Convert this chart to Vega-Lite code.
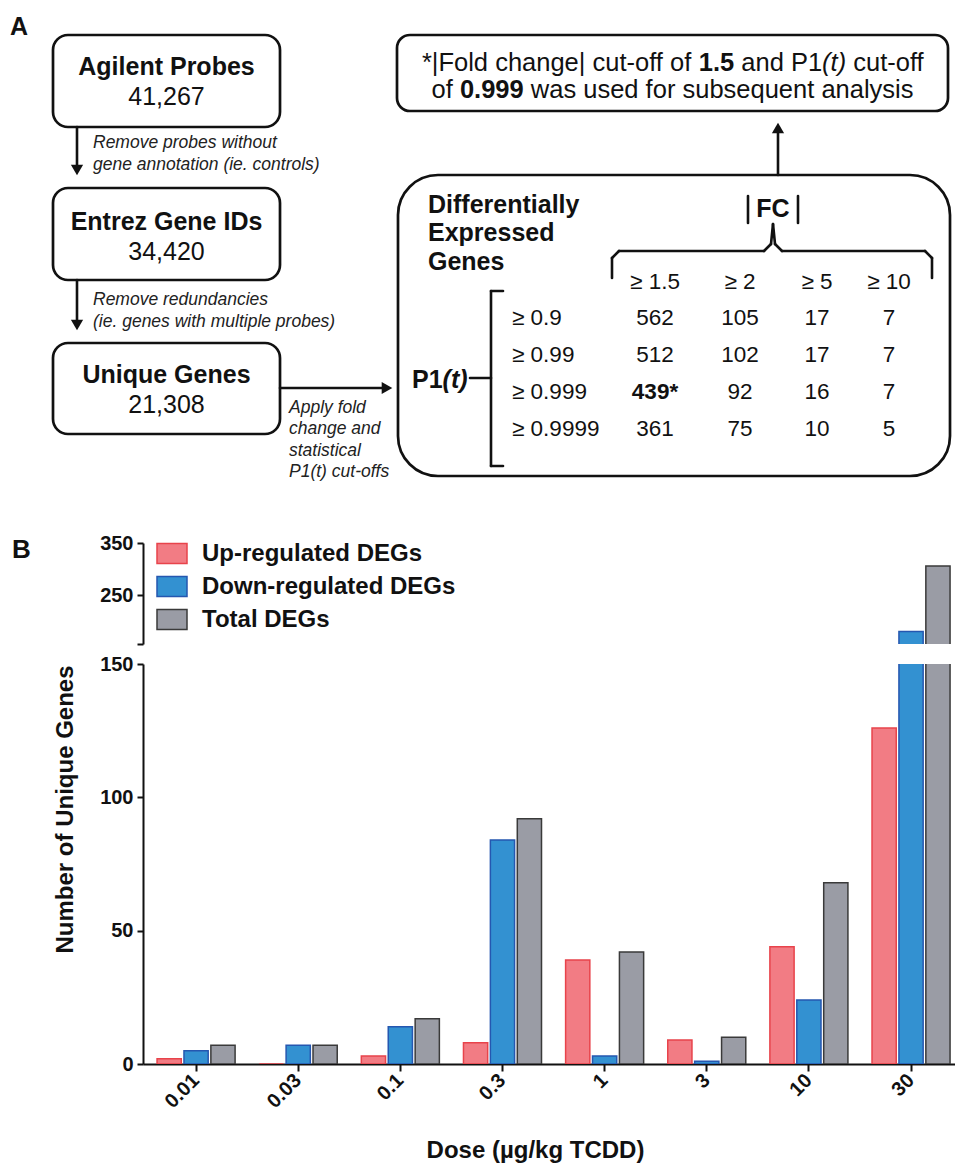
{
  "$schema": "https://vega.github.io/schema/vega-lite/v6.json",
  "padding": {"left": 10, "top": 0, "right": 0, "bottom": 0},
  "spacing": 9,
  "background": "white",
  "config": {
    "font": "Liberation Sans",
    "view": {"stroke": null},
    "axis": {"labelFont": "Liberation Sans", "titleFont": "Liberation Sans", "domainColor": "#111", "tickColor": "#111", "labelColor": "#111", "titleColor": "#111", "domainWidth": 2, "tickWidth": 2, "grid": false},
    "text": {"font": "Liberation Sans", "color": "#111"}
  },
  "resolve": {"scale": {"x": "independent", "y": "independent", "fill": "independent", "stroke": "independent", "xOffset": "independent", "shape": "independent"}},
  "datasets": {
    "smallBoxes": [{"x": 53, "x2": 280, "y": 35, "y2": 127}, {"x": 53, "x2": 280, "y": 188, "y2": 280}, {"x": 53, "x2": 280, "y": 343, "y2": 434}],
    "topBox": [{"x": 397, "x2": 948, "y": 35, "y2": 111}],
    "bigBox": [{"x": 398, "x2": 950, "y": 175, "y2": 476}],
    "segments": [
      {"x": 77, "y": 127, "x2": 77, "y2": 169},
      {"x": 77, "y": 280, "x2": 77, "y2": 324},
      {"x": 280, "y": 388, "x2": 386, "y2": 388},
      {"x": 778, "y": 175, "x2": 778, "y2": 129},
      {"x": 503, "y": 291, "x2": 491, "y2": 291},
      {"x": 491, "y": 291, "x2": 491, "y2": 466},
      {"x": 491, "y": 466, "x2": 503, "y2": 466},
      {"x": 470, "y": 378, "x2": 491, "y2": 378},
      {"x": 612, "y": 278, "x2": 612, "y2": 258},
      {"x": 612, "y": 258, "x2": 619, "y2": 251},
      {"x": 619, "y": 251, "x2": 764, "y2": 251},
      {"x": 764, "y": 251, "x2": 771, "y2": 244},
      {"x": 771, "y": 244, "x2": 773, "y2": 224},
      {"x": 773, "y": 224, "x2": 775, "y2": 244},
      {"x": 775, "y": 244, "x2": 782, "y2": 251},
      {"x": 782, "y": 251, "x2": 925, "y2": 251},
      {"x": 925, "y": 251, "x2": 932, "y2": 258},
      {"x": 932, "y": 258, "x2": 932, "y2": 278},
      {"x": 748, "y": 196, "x2": 748, "y2": 223},
      {"x": 798, "y": 196, "x2": 798, "y2": 223}
    ],
    "arrowHeads": [{"x": 77, "y": 170, "dir": "down"}, {"x": 77, "y": 325, "dir": "down"}, {"x": 387, "y": 388, "dir": "right"}, {"x": 778, "y": 128, "dir": "up"}],
    "headsLeft": [{"x": 10, "y": 27, "text": "A"}, {"x": 428, "y": 205, "text": "Differentially"}, {"x": 428, "y": 233, "text": "Expressed"}, {"x": 428, "y": 262, "text": "Genes"}, {"x": 412, "y": 380, "text": "P1"}],
    "headsCenter": [{"x": 166.5, "y": 67, "text": "Agilent Probes"}, {"x": 166.5, "y": 222, "text": "Entrez Gene IDs"}, {"x": 166.5, "y": 375, "text": "Unique Genes"}, {"x": 773, "y": 209, "text": "FC"}],
    "numsCenter": [{"x": 166.5, "y": 97, "text": "41,267"}, {"x": 166.5, "y": 252, "text": "34,420"}, {"x": 166.5, "y": 405, "text": "21,308"}],
    "boldItalic": [{"x": 442.6, "y": 380, "text": "(t)"}],
    "topRegular": [{"x": 421.9, "y": 63, "text": "*|Fold change| cut-off of"}, {"x": 741.3, "y": 63, "text": "and P1"}, {"x": 853.3, "y": 63, "text": "cut-off"}, {"x": 431.5, "y": 90, "text": "of"}, {"x": 530.8, "y": 90, "text": "was used for subsequent analysis"}],
    "topBold": [{"x": 698.8, "y": 63, "text": "1.5"}, {"x": 459.9, "y": 90, "text": "0.999"}],
    "topItalic": [{"x": 822.1, "y": 63, "text": "(t)"}],
    "notes": [{"x": 93, "y": 143, "text": "Remove probes without"}, {"x": 93, "y": 165, "text": "gene annotation (ie. controls)"}, {"x": 93, "y": 300, "text": "Remove redundancies"}, {"x": 93, "y": 322, "text": "(ie. genes with multiple probes)"}, {"x": 289, "y": 408, "text": "Apply fold"}, {"x": 289, "y": 429, "text": "change and"}, {"x": 289, "y": 451, "text": "statistical"}, {"x": 289, "y": 472, "text": "P1(t) cut-offs"}],
    "tableCenter": [
      {"x": 655, "y": 282, "text": "≥ 1.5"}, {"x": 740, "y": 282, "text": "≥ 2"}, {"x": 817, "y": 282, "text": "≥ 5"}, {"x": 889, "y": 282, "text": "≥ 10"},
      {"x": 655, "y": 318, "text": "562"}, {"x": 740, "y": 318, "text": "105"}, {"x": 817, "y": 318, "text": "17"}, {"x": 889, "y": 318, "text": "7"},
      {"x": 655, "y": 355, "text": "512"}, {"x": 740, "y": 355, "text": "102"}, {"x": 817, "y": 355, "text": "17"}, {"x": 889, "y": 355, "text": "7"},
      {"x": 740, "y": 392, "text": "92"}, {"x": 817, "y": 392, "text": "16"}, {"x": 889, "y": 392, "text": "7"},
      {"x": 655, "y": 429, "text": "361"}, {"x": 740, "y": 429, "text": "75"}, {"x": 817, "y": 429, "text": "10"}, {"x": 889, "y": 429, "text": "5"}
    ],
    "tableBold": [{"x": 655, "y": 392, "text": "439*"}],
    "rowLabels": [{"x": 512, "y": 318, "text": "≥ 0.9"}, {"x": 512, "y": 355, "text": "≥ 0.99"}, {"x": 512, "y": 392, "text": "≥ 0.999"}, {"x": 512, "y": 429, "text": "≥ 0.9999"}],
    "bars": [
      {"dose": "0.01", "series": "Up-regulated DEGs", "value": 2},
      {"dose": "0.01", "series": "Down-regulated DEGs", "value": 5},
      {"dose": "0.01", "series": "Total DEGs", "value": 7},
      {"dose": "0.03", "series": "Up-regulated DEGs", "value": 0},
      {"dose": "0.03", "series": "Down-regulated DEGs", "value": 7},
      {"dose": "0.03", "series": "Total DEGs", "value": 7},
      {"dose": "0.1", "series": "Up-regulated DEGs", "value": 3},
      {"dose": "0.1", "series": "Down-regulated DEGs", "value": 14},
      {"dose": "0.1", "series": "Total DEGs", "value": 17},
      {"dose": "0.3", "series": "Up-regulated DEGs", "value": 8},
      {"dose": "0.3", "series": "Down-regulated DEGs", "value": 84},
      {"dose": "0.3", "series": "Total DEGs", "value": 92},
      {"dose": "1", "series": "Up-regulated DEGs", "value": 39},
      {"dose": "1", "series": "Down-regulated DEGs", "value": 3},
      {"dose": "1", "series": "Total DEGs", "value": 42},
      {"dose": "3", "series": "Up-regulated DEGs", "value": 9},
      {"dose": "3", "series": "Down-regulated DEGs", "value": 1},
      {"dose": "3", "series": "Total DEGs", "value": 10},
      {"dose": "10", "series": "Up-regulated DEGs", "value": 44},
      {"dose": "10", "series": "Down-regulated DEGs", "value": 24},
      {"dose": "10", "series": "Total DEGs", "value": 68},
      {"dose": "30", "series": "Up-regulated DEGs", "value": 126},
      {"dose": "30", "series": "Down-regulated DEGs", "value": 180},
      {"dose": "30", "series": "Total DEGs", "value": 306}
    ]
  },
  "vconcat": [
    {
      "width": 812,
      "height": 524,
      "encoding": {
        "x": {"field": "x", "type": "quantitative", "scale": {"domain": [143, 955], "nice": false, "zero": false}, "axis": null},
        "y": {"field": "y", "type": "quantitative", "scale": {"domain": [0, 524], "nice": false, "zero": false, "reverse": true}, "axis": null}
      },
      "layer": [
        {"data": {"name": "smallBoxes"}, "mark": {"type": "rect", "fill": "white", "stroke": "#111", "strokeWidth": 2.7, "cornerRadius": 15}, "encoding": {"x2": {"field": "x2"}, "y2": {"field": "y2"}}},
        {"data": {"name": "topBox"}, "mark": {"type": "rect", "fill": "white", "stroke": "#111", "strokeWidth": 2.7, "cornerRadius": 13}, "encoding": {"x2": {"field": "x2"}, "y2": {"field": "y2"}}},
        {"data": {"name": "bigBox"}, "mark": {"type": "rect", "fill": "white", "stroke": "#111", "strokeWidth": 2.7, "cornerRadius": 40}, "encoding": {"x2": {"field": "x2"}, "y2": {"field": "y2"}}},
        {"data": {"name": "segments"}, "mark": {"type": "rule", "color": "#111", "strokeWidth": 2.6, "strokeCap": "round"}, "encoding": {"x2": {"field": "x2"}, "y2": {"field": "y2"}}},
        {"data": {"name": "arrowHeads"}, "mark": {"type": "point", "filled": true, "size": 150, "color": "#111", "opacity": 1, "strokeWidth": 0},
         "encoding": {"shape": {"field": "dir", "type": "nominal", "scale": {"domain": ["down", "right", "up"], "range": ["triangle-down", "triangle-right", "triangle-up"]}, "legend": null}}},
        {"data": {"name": "headsLeft"}, "mark": {"type": "text", "align": "left", "baseline": "middle", "fontSize": 25, "fontWeight": "bold"}, "encoding": {"text": {"field": "text"}}},
        {"data": {"name": "headsCenter"}, "mark": {"type": "text", "align": "center", "baseline": "middle", "fontSize": 25, "fontWeight": "bold"}, "encoding": {"text": {"field": "text"}}},
        {"data": {"name": "numsCenter"}, "mark": {"type": "text", "align": "center", "baseline": "middle", "fontSize": 25}, "encoding": {"text": {"field": "text"}}},
        {"data": {"name": "boldItalic"}, "mark": {"type": "text", "align": "left", "baseline": "middle", "fontSize": 25, "fontWeight": "bold", "fontStyle": "italic"}, "encoding": {"text": {"field": "text"}}},
        {"data": {"name": "topRegular"}, "mark": {"type": "text", "align": "left", "baseline": "middle", "fontSize": 25.5}, "encoding": {"text": {"field": "text"}}},
        {"data": {"name": "topBold"}, "mark": {"type": "text", "align": "left", "baseline": "middle", "fontSize": 25.5, "fontWeight": "bold"}, "encoding": {"text": {"field": "text"}}},
        {"data": {"name": "topItalic"}, "mark": {"type": "text", "align": "left", "baseline": "middle", "fontSize": 25.5, "fontStyle": "italic"}, "encoding": {"text": {"field": "text"}}},
        {"data": {"name": "notes"}, "mark": {"type": "text", "align": "left", "baseline": "middle", "fontSize": 17.5, "fontStyle": "italic", "color": "#222"}, "encoding": {"text": {"field": "text"}}},
        {"data": {"name": "tableCenter"}, "mark": {"type": "text", "align": "center", "baseline": "middle", "fontSize": 22.5}, "encoding": {"text": {"field": "text"}}},
        {"data": {"name": "tableBold"}, "mark": {"type": "text", "align": "center", "baseline": "middle", "fontSize": 22.5, "fontWeight": "bold"}, "encoding": {"text": {"field": "text"}}},
        {"data": {"name": "rowLabels"}, "mark": {"type": "text", "align": "left", "baseline": "middle", "fontSize": 22.5}, "encoding": {"text": {"field": "text"}}}
      ]
    },
    {
      "width": 812,
      "height": 101,
      "layer": [
        {
          "data": {"name": "bars"},
          "mark": {"type": "bar", "clip": true, "strokeWidth": 1.5},
          "encoding": {
            "x": {"field": "dose", "type": "nominal", "scale": {"domain": ["0.01", "0.03", "0.1", "0.3", "1", "3", "10", "30"], "paddingInner": 0.236, "paddingOuter": 0.093, "align": 0.74}, "axis": null},
            "xOffset": {"field": "series", "type": "nominal", "scale": {"domain": ["Up-regulated DEGs", "Down-regulated DEGs", "Total DEGs"], "paddingInner": 0.1}},
            "y": {"field": "value", "type": "quantitative", "scale": {"domain": [156, 350], "nice": false, "zero": false},
                  "axis": {"values": [156, 250, 350], "labelExpr": "datum.value == 156 ? '' : datum.label", "title": null, "labelFontSize": 20, "labelFontWeight": "bold", "tickSize": 6, "labelPadding": 4}},
            "fill": {"field": "series", "type": "nominal", "scale": {"domain": ["Up-regulated DEGs", "Down-regulated DEGs", "Total DEGs"], "range": ["#F27C84", "#3391D1", "#9A9CA5"]},
                     "legend": {"title": null, "orient": "none", "legendX": 17, "legendY": -1.5, "symbolType": "M-1.5,-1H1.5V1H-1.5Z", "symbolSize": 400, "symbolStrokeWidth": 1.5, "labelFontSize": 24, "labelFontWeight": "bold", "labelFont": "Liberation Sans", "labelColor": "#111", "labelLimit": 0, "rowPadding": 7, "labelOffset": 18, "padding": 0}},
            "stroke": {"field": "series", "type": "nominal", "scale": {"domain": ["Up-regulated DEGs", "Down-regulated DEGs", "Total DEGs"], "range": ["#E8434B", "#2557B0", "#3A3A3A"]},
                     "legend": {"title": null, "orient": "none", "legendX": 17, "legendY": -1.5, "symbolType": "M-1.5,-1H1.5V1H-1.5Z", "symbolSize": 400, "symbolStrokeWidth": 1.5, "labelFontSize": 24, "labelFontWeight": "bold", "labelFont": "Liberation Sans", "labelColor": "#111", "labelLimit": 0, "rowPadding": 7, "labelOffset": 18, "padding": 0}}
          }
        },
        {
          "data": {"values": [{"label": "B"}]},
          "mark": {"type": "text", "align": "left", "baseline": "middle", "dx": -184, "dy": 7, "fontSize": 26, "fontWeight": "bold"},
          "encoding": {
            "x": {"datum": "0.01", "type": "nominal"},
            "y": {"datum": 350, "type": "quantitative"},
            "text": {"field": "label"}
          }
        }
      ]
    },
    {
      "width": 812,
      "height": 400,
      "data": {"name": "bars"},
      "mark": {"type": "bar", "clip": true, "strokeWidth": 1.5},
      "encoding": {
        "x": {"field": "dose", "type": "nominal", "scale": {"domain": ["0.01", "0.03", "0.1", "0.3", "1", "3", "10", "30"], "paddingInner": 0.236, "paddingOuter": 0.093, "align": 0.74},
              "axis": {"title": "Dose (µg/kg TCDD)", "titleFontSize": 24, "titleFontWeight": "bold", "titlePadding": 27, "titleX": 392, "labelAngle": -45, "labelAlign": "right", "labelBaseline": "middle", "labelFontSize": 20, "labelFontWeight": "bold", "tickSize": 7, "labelPadding": 6}},
        "xOffset": {"field": "series", "type": "nominal", "scale": {"domain": ["Up-regulated DEGs", "Down-regulated DEGs", "Total DEGs"], "paddingInner": 0.1}},
        "y": {"field": "value", "type": "quantitative", "scale": {"domain": [0, 150], "nice": false, "zero": false},
              "axis": {"values": [0, 50, 100, 150], "title": "Number of Unique Genes", "titleFontSize": 24, "titleFontWeight": "bold", "titleX": -66, "titleY": 145, "labelFontSize": 20, "labelFontWeight": "bold", "tickSize": 6, "labelPadding": 4}},
        "fill": {"field": "series", "type": "nominal", "scale": {"domain": ["Up-regulated DEGs", "Down-regulated DEGs", "Total DEGs"], "range": ["#F27C84", "#3391D1", "#9A9CA5"]}, "legend": null},
        "stroke": {"field": "series", "type": "nominal", "scale": {"domain": ["Up-regulated DEGs", "Down-regulated DEGs", "Total DEGs"], "range": ["#E8434B", "#2557B0", "#3A3A3A"]}, "legend": null}
      }
    }
  ]
}
